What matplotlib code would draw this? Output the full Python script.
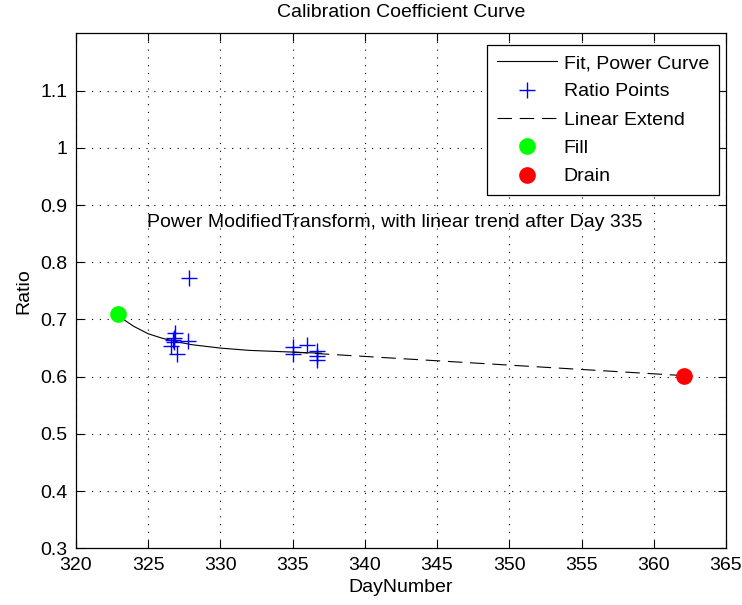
import matplotlib
matplotlib.use("Agg")
import matplotlib.pyplot as plt

plt.rcParams["font.family"] = ["Liberation Sans", "DejaVu Sans"]

# fitted power curve
fit_day = [323, 324, 325, 326, 327, 328, 329, 330, 331, 332, 333, 334, 335, 336, 337]
fit_ratio = [0.705, 0.688, 0.675, 0.667, 0.661, 0.656, 0.653, 0.650, 0.648,
             0.646, 0.645, 0.644, 0.643, 0.642, 0.641]

# ratio samples
pt_day = [326.6, 326.7, 326.76, 326.8, 326.85, 326.97, 327.78, 327.8,
          335.0, 335.0, 336.0, 336.7, 336.7, 336.7]
pt_ratio = [0.654, 0.665, 0.668, 0.660, 0.677, 0.639, 0.662, 0.772,
            0.652, 0.640, 0.655, 0.645, 0.637, 0.629]

# linear extension after day 335
ext_day = [335, 362]
ext_ratio = [0.643, 0.602]

fill_day, fill_ratio = 322.9, 0.709
drain_day, drain_ratio = 362.1, 0.602

FS = 14

fig = plt.figure(figsize=(7.42, 6.05), dpi=100)
ax = fig.add_axes([0.1024, 0.0937, 0.876, 0.851])

ax.plot(fit_day, fit_ratio, color="black", lw=0.8, label="Fit, Power Curve")
ax.plot(pt_day, pt_ratio, "+", color="blue", ms=11, mew=1.0, ls="none",
        label="Ratio Points")
ax.plot(ext_day, ext_ratio, color="black", lw=0.8, ls=(0, (13, 7)),
        label="Linear Extend")
ax.plot(fill_day, fill_ratio, "o", color="#00ff00", ms=11, label="Fill")
ax.plot(drain_day, drain_ratio, "o", color="red", ms=11, label="Drain")

ax.text(324.9, 0.870, "Power ModifiedTransform, with linear trend after Day 335",
        fontsize=FS, ha="left", va="center")

ax.set_xlim(320, 365)
ax.set_ylim(0.3, 1.2)
ax.set_xticks(range(320, 366, 5))
ax.set_yticks([0.3, 0.4, 0.5, 0.6, 0.7, 0.8, 0.9, 1.0, 1.1])
ax.set_yticklabels(["0.3", "0.4", "0.5", "0.6", "0.7", "0.8", "0.9", "1", "1.1"])
ax.tick_params(direction="in", length=6, width=0.8, top=True, right=True,
               labelsize=FS)
ax.tick_params(axis="x", pad=6)
ax.tick_params(axis="y", pad=6)
ax.grid(True, color="black", lw=0.8, ls=(0, (1, 6)))
for s in ax.spines.values():
    s.set_linewidth(0.9)

ax.set_title("Calibration Coefficient Curve", fontsize=FS, pad=12)
ax.set_xlabel("DayNumber", fontsize=FS, labelpad=4)
ax.set_ylabel("Ratio", fontsize=FS, labelpad=6)

leg = ax.legend(loc="upper right", bbox_to_anchor=(0.989, 0.978), fontsize=FS,
                fancybox=False, framealpha=1, edgecolor="black",
                borderpad=0.5, labelspacing=0.55, handlelength=3.1,
                handletextpad=0.35, borderaxespad=0)
leg.get_frame().set_linewidth(0.9)

fig.savefig("out.png", dpi=100)
